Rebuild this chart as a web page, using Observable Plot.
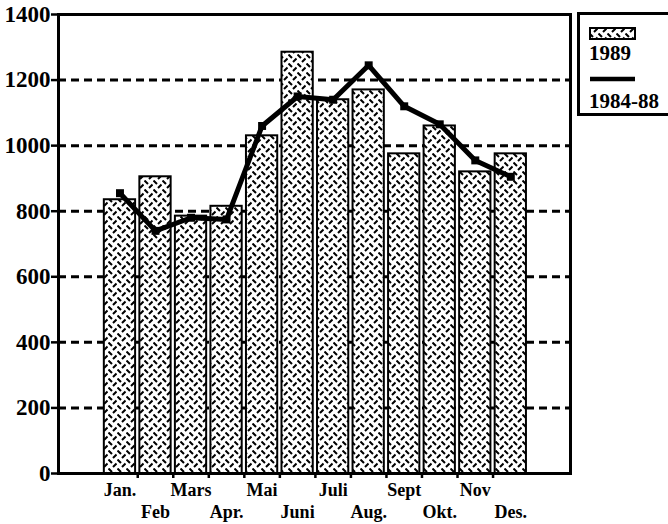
<!DOCTYPE html>
<html>
<head>
<meta charset="utf-8">
<script src="https://cdn.jsdelivr.net/npm/d3@7"></script>
<script src="https://cdn.jsdelivr.net/npm/@observablehq/plot@0.6"></script>
<style>
  html, body { margin: 0; padding: 0; background: #fff; overflow: hidden; }
  #wrap { position: relative; width: 668px; height: 524px; }
  #legend {
    position: absolute; left: 577px; top: 12px; width: 110px; height: 98px;
    border: 3px solid #000; box-sizing: content-box;
    font-family: "Liberation Serif", "Times New Roman", serif; font-weight: bold; color: #000;
  }
  #legend .lbl { position: absolute; left: 9px; font-size: 21px; line-height: 21px; }
</style>
</head>
<body>
<div id="wrap"></div>
<script>
const months = ["Jan.", "Feb", "Mars", "Apr.", "Mai", "Juni", "Juli", "Aug.", "Sept", "Okt.", "Nov", "Des."];
const values1989 = [835, 905, 785, 815, 1030, 1285, 1140, 1170, 975, 1060, 920, 975];
const values8488 = [855, 740, 780, 775, 1060, 1150, 1140, 1245, 1120, 1065, 955, 905];
const yTicks = [0, 200, 400, 600, 800, 1000, 1200, 1400];
const gridLines = [200, 400, 600, 800, 1000, 1200];

const rows = months.map((m, i) => ({month: m, i, v89: values1989[i], v8488: values8488[i]}));
const betweenBars = rows.slice(0, 11).map(d => d.i + 0.5);
const halfBar = 0.44;
const font = '"Liberation Serif", "Times New Roman", serif';

const chart = Plot.plot({
  width: 668,
  height: 524,
  marginLeft: 58,
  marginRight: 98,
  marginTop: 14,
  marginBottom: 51,
  style: {fontFamily: font, fontWeight: "bold", fontSize: "18px", color: "#000", background: "#fff"},
  x: {type: "linear", domain: [-1.73, 12.68], axis: null, label: null},
  y: {type: "linear", domain: [0, 1400], axis: null, label: null},
  marks: [
    Plot.ruleY(gridLines, {stroke: "#000", strokeWidth: 3, strokeDasharray: "8,5"}),
    Plot.rectY(rows, {x1: d => d.i - halfBar, x2: d => d.i + halfBar, y1: 0, y2: "v89", fill: "url(#tread)", stroke: "#000", strokeWidth: 2}),
    Plot.line(rows, {x: "i", y: "v8488", stroke: "#000", strokeWidth: 5, strokeLinejoin: "round"}),
    Plot.dot(rows, {x: "i", y: "v8488", symbol: "square", r: 4.5, fill: "#000", stroke: null}),
    Plot.frame({stroke: "#000", strokeWidth: 3}),
    Plot.axisY({ticks: yTicks, label: null, tickSize: 7, tickPadding: 1, fontSize: 23, fontWeight: "bold", strokeWidth: 2.5, tickFormat: d => String(d)}),
    Plot.axisX({ticks: betweenBars, label: null, tickSize: 5, strokeWidth: 2.5, tickFormat: () => ""}),
    Plot.text(rows.filter(d => d.i % 2 === 0), {x: "i", text: "month", frameAnchor: "bottom", lineAnchor: "top", dy: 10, fontSize: 18, fontWeight: "bold"}),
    Plot.text(rows.filter(d => d.i % 2 === 1), {x: "i", text: "month", frameAnchor: "bottom", lineAnchor: "top", dy: 32, fontSize: 18, fontWeight: "bold"})
  ]
});

const patternBody = `<rect width="9" height="9" fill="#fff"/>
      <path d="M0.5,0.5 L4,4 M8.5,4.5 L5,8" stroke="#000" stroke-width="2" stroke-linecap="butt"/>`;

// pattern definition for the bars
const ns = "http://www.w3.org/2000/svg";
function addPattern(svg, id) {
  const defs = document.createElementNS(ns, "defs");
  defs.innerHTML = `<pattern id="${id}" patternUnits="userSpaceOnUse" width="9" height="9">${patternBody}</pattern>`;
  svg.insertBefore(defs, svg.firstChild);
}
addPattern(chart, "tread");

const wrap = document.getElementById("wrap");
wrap.appendChild(chart);

const legend = document.createElement("div");
legend.id = "legend";
legend.innerHTML = `
  <svg width="60" height="100" style="position:absolute;left:0;top:0">
    <defs><pattern id="tread2" patternUnits="userSpaceOnUse" width="9" height="9">${patternBody}</pattern></defs>
    <rect x="10" y="13" width="45" height="11" fill="url(#tread2)" stroke="#000" stroke-width="2"/>
    <line x1="10" x2="55" y1="64" y2="64" stroke="#000" stroke-width="4.5"/>
  </svg>
  <div class="lbl" style="top:28px">${"1989"}</div>
  <div class="lbl" style="top:76px">${"1984-88"}</div>`;
wrap.appendChild(legend);
</script>
</body>
</html>
